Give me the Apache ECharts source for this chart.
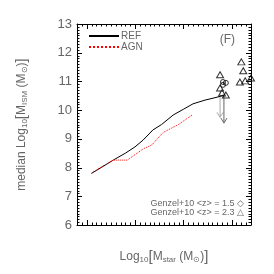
<!DOCTYPE html>
<html><head><meta charset="utf-8">
<script src="https://cdn.jsdelivr.net/npm/echarts@6/dist/echarts.min.js"></script>
<style>html,body{margin:0;padding:0;background:#fff}#c{width:274px;height:274px}</style>
</head><body><div id="c"></div>
<script>
const refX = [8.1, 8.3, 8.55, 8.8, 9.0, 9.17, 9.37, 9.55, 9.79, 10.0, 10.2, 10.45, 10.72, 10.84];
const refY = [7.8, 8.0, 8.26, 8.5, 8.72, 8.96, 9.31, 9.5, 9.83, 10.03, 10.22, 10.35, 10.46, 10.53];
const agnX = [8.1, 8.3, 8.55, 8.84, 9.0, 9.17, 9.35, 9.58, 9.9, 10.18];
const agnY = [7.8, 8.02, 8.26, 8.26, 8.45, 8.65, 8.79, 9.22, 9.5, 9.83];
const z23X = [10.76, 11.2, 11.24, 11.17, 11.28, 11.4, 10.76, 10.8, 10.88];
const z23Y = [11.23, 11.68, 11.37, 10.98, 11.02, 11.12, 10.77, 10.6, 10.53];
const z15X = [10.82, 10.82, 10.88];
const z15Y = [10.98, 10.88, 10.95];
const arrowX = [10.76, 10.84];
const arrowFrom = [10.7, 10.5];
const arrowTo = [9.75, 9.55];
const arrowCol = ['#aaaaaa', '#666666'];
const xTicks = [8, 9, 10, 11];
const yTicks = [6, 7, 8, 9, 10, 11, 12, 13];
const xMin = 7.8, xMax = 11.4, yMin = 6, yMax = 13;

const font = 'Liberation Sans';
const txt = '#666';
const zip = (a, b) => a.map((v, i) => [v, b[i]]);
const sub = {fontSize: 8, verticalAlign: 'bottom', padding: [6, 0, 0, 0], color: txt, fontFamily: font};
const big = {fontSize: 15, color: txt, fontFamily: font};

// tick marks: [x, y, isYAxisTick, isMajor]; x/y kept inside the axis ranges
const tickData = [];
for (let k = Math.ceil(xMin * 10); k <= Math.floor(xMax * 10); k++) {
  const v = Math.round(k) / 10;
  tickData.push([v, yMin, 0, xTicks.includes(v) ? 1 : 0]);
}
for (let k = yMin * 10; k <= yMax * 10; k++) {
  const v = k / 10;
  tickData.push([xMin, v, 1, yTicks.includes(v) ? 1 : 0]);
}

function makeAxis(kind, pos, show, ticks) {
  const isX = kind === 'x';
  return {
    type: 'value', position: pos,
    min: isX ? xMin : yMin, max: isX ? xMax : yMax, interval: 1,
    axisLine: {show: true, onZero: false, lineStyle: {color: '#000000', width: 1}},
    axisTick: {show: false},
    minorTick: {show: false},
    splitLine: {show: false},
    axisLabel: {show: show, color: txt, fontSize: 13, fontFamily: font, margin: isX ? 9 : 5,
      formatter: v => ticks.includes(v) ? String(v) : ''}
  };
}
const xBottom = makeAxis('x', 'bottom', true, xTicks);
xBottom.name = 'Log{s|10}{b|[}M{s|star} (M{s|⊙}){b|]}';
xBottom.nameLocation = 'middle';
xBottom.nameGap = 24;
xBottom.nameTextStyle = {color: txt, fontSize: 12, fontFamily: font, rich: {s: sub, b: big}};
const yLeft = makeAxis('y', 'left', true, yTicks);
yLeft.name = 'median Log{s|10}{b|[}M{s|ISM} (M{s|⊙}){b|]}';
yLeft.nameLocation = 'middle';
yLeft.nameGap = 48;
yLeft.nameTextStyle = {color: txt, fontSize: 12, fontFamily: font, rich: {s: sub, b: big}};

const chart = echarts.init(document.getElementById('c'), null, {renderer: 'canvas'});
chart.setOption({
  animation: false,
  grid: {left: 77, right: 23, top: 24, bottom: 49},
  xAxis: [xBottom, makeAxis('x', 'top', false, xTicks)],
  yAxis: [yLeft, makeAxis('y', 'right', false, yTicks)],
  legend: {
    orient: 'vertical', left: 83, top: 26, itemWidth: 30, itemHeight: 6, itemGap: 1,
    itemStyle: {opacity: 0},
    textStyle: {color: txt, fontSize: 10, fontFamily: font, padding: [0, 0, 0, -3]},
    data: ['REF', 'AGN']
  },
  graphic: [
    {type: 'text', right: 39, top: 34, style: {text: '(F)', fill: txt, fontSize: 12, fontFamily: font}},
    {type: 'text', right: 30, top: 199, style: {text: 'Genzel+10 <z> = 1.5 ◇', fill: txt, fontSize: 9, fontFamily: font}},
    {type: 'text', right: 30, top: 208, style: {text: 'Genzel+10 <z> = 2.3 △', fill: txt, fontSize: 9, fontFamily: font}}
  ],
  series: [
    {type: 'custom', silent: true, clip: false, data: tickData, z: 10,
      encode: {x: 0, y: 1},
      renderItem: (params, api) => {
        const isY = api.value(2) === 1;
        const len = api.value(3) === 1 ? 5 : 2.5;
        const s = {stroke: '#000000', lineWidth: 1, opacity: 1};
        if (!isY) {
          const v = api.value(0);
          const b = api.coord([v, yMin]);
          const t = api.coord([v, yMax]);
          const x = Math.round(b[0]) + 0.5;
          return {type: 'group', children: [
            {type: 'line', shape: {x1: x, y1: b[1], x2: x, y2: b[1] - len}, style: s},
            {type: 'line', shape: {x1: x, y1: t[1], x2: x, y2: t[1] + len}, style: s}
          ]};
        }
        const v = api.value(1);
        const l = api.coord([xMin, v]);
        const r = api.coord([xMax, v]);
        const y = Math.round(l[1]) + 0.5;
        return {type: 'group', children: [
          {type: 'line', shape: {x1: l[0], y1: y, x2: l[0] + len, y2: y}, style: s},
          {type: 'line', shape: {x1: r[0], y1: y, x2: r[0] - len, y2: y}, style: s}
        ]};
      }},
    {name: 'REF', type: 'line', data: zip(refX, refY), showSymbol: false, symbol: 'none',
      lineStyle: {color: '#000', width: 1}, itemStyle: {color: '#000'}},
    {name: 'AGN', type: 'line', data: zip(agnX, agnY), showSymbol: false, symbol: 'none',
      lineStyle: {color: '#ff0000', width: 1, type: 'dotted'}, itemStyle: {color: '#ff0000'}},
    {type: 'custom', data: arrowX.map((x, i) => [x, arrowFrom[i], arrowTo[i], i]),
      renderItem: (params, api) => {
        const a = api.coord([api.value(0), api.value(1)]);
        const b = api.coord([api.value(0), api.value(2)]);
        const c = arrowCol[api.value(3)];
        return {type: 'group', children: [
          {type: 'line', shape: {x1: a[0], y1: a[1], x2: b[0], y2: b[1]}, style: {stroke: c, lineWidth: 1}},
          {type: 'polyline', shape: {points: [[b[0] - 3, b[1] - 5], [b[0], b[1]], [b[0] + 3, b[1] - 5]]}, style: {stroke: c, fill: 'none', lineWidth: 1}}
        ]};
      }, z: 1},
    {type: 'scatter', data: zip(z23X, z23Y), symbol: 'triangle', symbolSize: [7, 6],
      itemStyle: {color: 'rgba(255,255,255,0)', borderColor: '#000', borderWidth: 1}, z: 3},
    {type: 'scatter', data: zip(z15X, z15Y), symbol: 'circle', symbolSize: 5,
      itemStyle: {color: 'rgba(255,255,255,0)', borderColor: '#000', borderWidth: 1}, z: 3}
  ]
});
</script></body></html>
